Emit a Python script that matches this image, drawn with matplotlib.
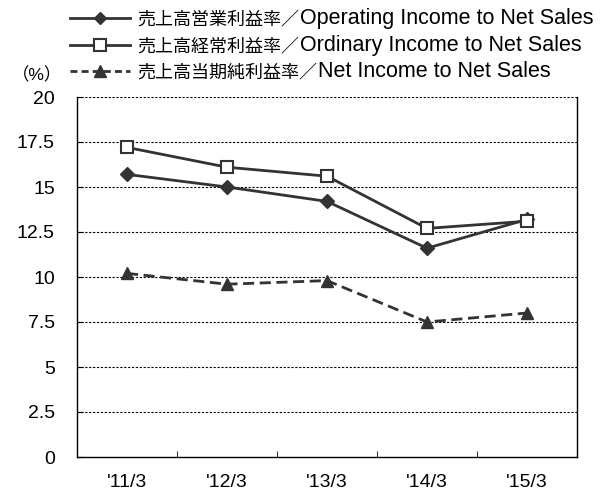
import matplotlib
matplotlib.use('Agg')
import matplotlib.pyplot as plt
from matplotlib.lines import Line2D

plt.rcParams['font.family'] = ['Liberation Sans', 'Noto Sans CJK JP', 'DejaVu Sans']

years = ["'11/3", "'12/3", "'13/3", "'14/3", "'15/3"]
operating = [15.7, 15.0, 14.2, 11.6, 13.2]
ordinary = [17.2, 16.1, 15.6, 12.7, 13.1]
net = [10.2, 9.6, 9.8, 7.5, 8.0]
labels_jp = ['売上高営業利益率／', '売上高経常利益率／', '売上高当期純利益率／']
labels_en = ['Operating Income to Net Sales', 'Ordinary Income to Net Sales',
             'Net Income to Net Sales']
yticks = [0, 2.5, 5, 7.5, 10, 12.5, 15, 17.5, 20]
ytick_labels = ['0', '2.5', '5', '7.5', '10', '12.5', '15', '17.5', '20']

col = '#333333'
W, H = 601, 492
fig = plt.figure(figsize=(W / 100, H / 100), dpi=100)
ax = fig.add_axes([77 / W, 35 / H, 500 / W, 360 / H])

x = range(len(years))
styles = [
    dict(color=col, lw=2, marker='D', ms=7, mfc=col, mec=col),
    dict(color=col, lw=2, marker='s', ms=9, mfc='white', mec=col, mew=1.5),
    dict(color=col, lw=2, ls=(0, (4, 2)), marker='^', ms=9, mfc=col, mec=col),
]
for vals, st in zip([operating, ordinary, net], styles):
    ax.plot(x, vals, **st)

ax.set_xlim(-0.5, 4.5)
ax.set_ylim(0, 20)
ax.set_xticks(list(x))
ax.set_xticklabels(years, fontsize=14)
ax.set_xticks([0.5, 1.5, 2.5, 3.5], minor=True)
ax.set_yticks(yticks)
ax.set_yticklabels(ytick_labels, fontsize=14)
ax.tick_params(axis='x', which='major', length=0, pad=12)
ax.tick_params(axis='x', which='minor', length=4, direction='in')
ax.tick_params(axis='y', length=4, direction='in', pad=16)
for v in yticks[1:]:
    ax.axhline(v, color='black', lw=0.8, ls=(0, (2, 1.5)), zorder=0)
for s in ax.spines.values():
    s.set_color('black')
    s.set_linewidth(1)
ax.spines['top'].set_visible(False)

# legend drawn by hand: Japanese part and wider English part
rows_y = [18, 45, 71]
fig.canvas.draw()
r = fig.canvas.get_renderer()
for st, jp, en, py in zip(styles, labels_jp, labels_en, rows_y):
    yf = 1 - py / H
    fig.add_artist(Line2D([70 / W, 130 / W], [yf, yf], color=col, lw=2,
                          ls=(0, (2.5, 1.5)) if 'ls' in st else '-'))
    fig.add_artist(Line2D([100 / W], [yf], ls='none', marker=st['marker'],
                          ms=st['ms'] - 1, mfc=st['mfc'], mec=st['mec'],
                          mew=st.get('mew', 1)))
    t1 = fig.text(137 / W, yf - 6 / H, jp, fontsize=13, va='baseline')
    ext = t1.get_window_extent(r)
    fig.text(ext.x1 / W + 1 / W, yf - 6 / H, en, fontsize=15.5, va='baseline')

fig.text(12 / W, 1 - 80 / H, '（%）', fontsize=12.5)

fig.savefig('out.png', dpi=100)
